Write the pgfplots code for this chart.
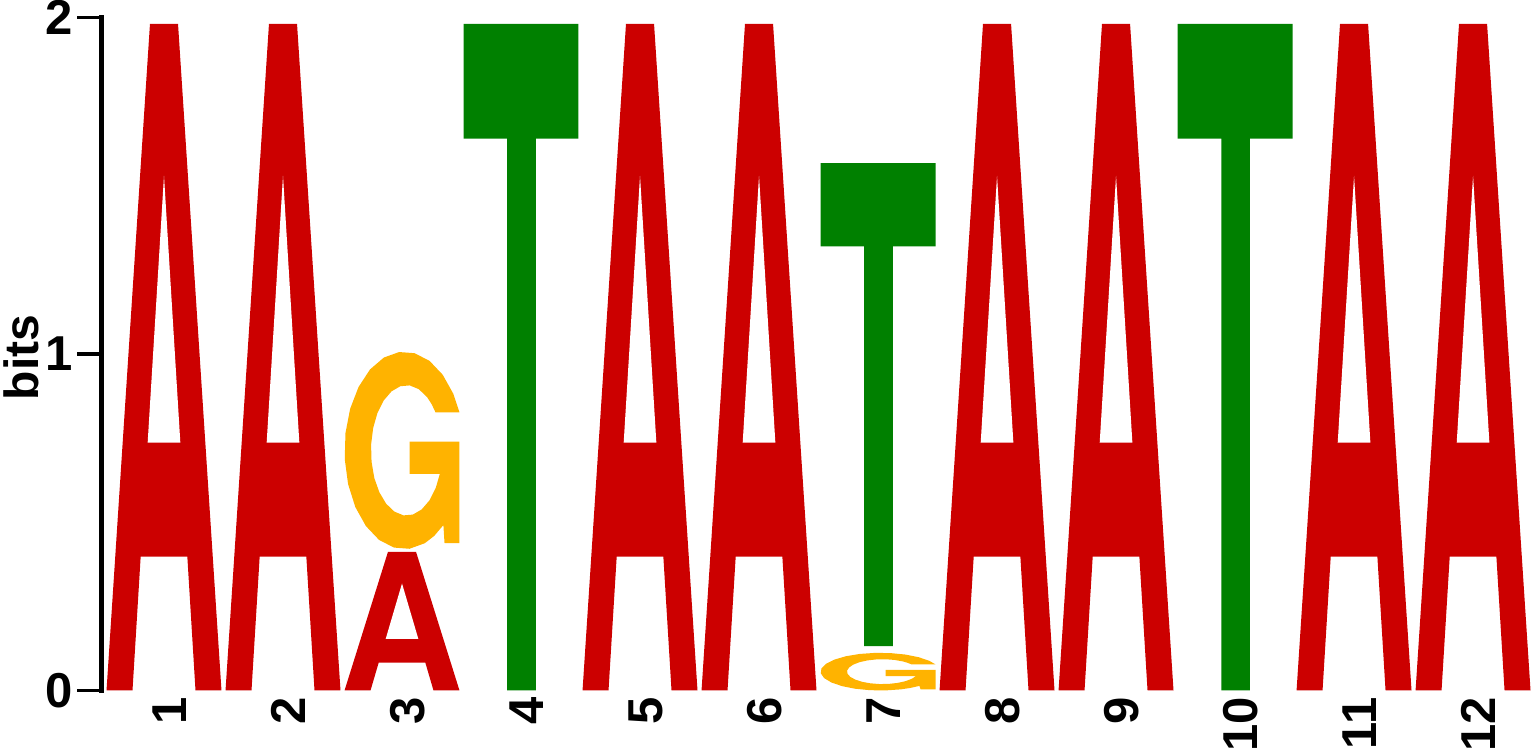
\documentclass[border=0pt]{standalone}
\usepackage{fontspec}
\setmainfont{Liberation Sans}
\usepackage{pgfplots}
\usepackage{pgfplotstable}
\pgfplotsset{compat=1.18}
\definecolor{colA}{RGB}{204,0,0}
\definecolor{colT}{RGB}{0,128,0}
\definecolor{colG}{RGB}{255,179,0}

% letter outlines in unit box (u across, v up)
\pgfplotstableread{
u v
0 0
0.378 1
0.622 1
1 0
0.774 0
0.703 0.2007
0.297 0.2007
0.226 0
}\Ashape
\pgfplotstableread{
u v
0.358 0.372
0.5 0.772
0.642 0.372
}\Ahole
\pgfplotstableread{
u v
0.38 0
0.63 0
0.63 0.828
1 0.828
1 1
0 1
0 0.828
0.38 0.828
}\Tshape
\pgfplotstableread{
u v
1.000 0.692
0.946 0.787
0.854 0.883
0.740 0.953
0.610 0.992
0.475 0.998
0.342 0.970
0.222 0.910
0.122 0.821
0.049 0.711
0.008 0.587
0.002 0.456
0.031 0.329
0.094 0.213
0.186 0.117
0.300 0.047
0.430 0.008
0.565 0.002
0.698 0.030
0.780 0.067
0.860 0.122
0.870 0.030
1.000 0.030
1.000 0.545
0.566 0.545
0.566 0.381
0.829 0.381
0.794 0.311
0.739 0.247
0.671 0.201
0.594 0.175
0.513 0.171
0.434 0.190
0.362 0.230
0.303 0.288
0.259 0.360
0.235 0.443
0.231 0.529
0.249 0.613
0.286 0.689
0.341 0.753
0.409 0.799
0.486 0.825
0.567 0.829
0.646 0.810
0.718 0.770
0.759 0.733
0.792 0.692
}\Gshape

% #1 position, #2 base (bits), #3 height (bits)
\newcommand{\LA}[3]{%
  \addplot[draw=none, fill=colA] table[x expr=\thisrow{u}*0.966+#1-0.483, y expr=\thisrow{v}*#3+#2]{\Ashape};
  \addplot[draw=none, fill=white] table[x expr=\thisrow{u}*0.966+#1-0.483, y expr=\thisrow{v}*#3+#2]{\Ahole};
}
\newcommand{\LT}[3]{%
  \addplot[draw=none, fill=colT] table[x expr=\thisrow{u}*0.966+#1-0.483, y expr=\thisrow{v}*#3+#2]{\Tshape};
}
\newcommand{\LG}[3]{%
  \addplot[draw=none, fill=colG] table[x expr=\thisrow{u}*0.966+#1-0.483, y expr=\thisrow{v}*#3+#2]{\Gshape};
}

\begin{document}
\begin{tikzpicture}
\begin{axis}[
  at={(0pt,0pt)}, anchor=south west,
  scale only axis, width=714.75pt, height=336.5pt,
  xmin=0.4748, xmax=12.487, ymin=0, ymax=2,
  clip=false,
  axis lines=left,
  axis line style={-},
  y axis line style={line width=2.2pt, line cap=rect},
  x axis line style={draw=none},
  xtick={1,...,12},
  ytick={0,1,2},
  tick align=outside,
  major tick length=12.25pt,
  ytick style={line width=1.9pt, black},
  xtick style={draw=none},
  /pgf/number format/assume math mode=true,
  ticklabel style={font=\fontsize{24.5}{28}\selectfont\bfseries, inner sep=0pt},
  yticklabel style={anchor=east, xshift=-2pt},
  xticklabel style={xshift=2.75pt, rotate=90, anchor=east},
  xticklabel shift=-9pt,
  ylabel={bits},
  every axis y label/.style={at={(axis description cs:-0.0444,0.4948)}, rotate=90, anchor=base, font=\fontsize{24}{28}\selectfont\bfseries, inner sep=0pt},
]
\LA{1}{0}{1.981}
\LA{2}{0}{1.981}
\LA{3}{0}{0.412}
\LG{3}{0.420}{0.587}
\LT{4}{0}{1.981}
\LA{5}{0}{1.981}
\LA{6}{0}{1.981}
\LG{7}{0}{0.112}
\LT{7}{0.132}{1.435}
\LA{8}{0}{1.981}
\LA{9}{0}{1.981}
\LT{10}{0}{1.981}
\LA{11}{0}{1.981}
\LA{12}{0}{1.981}
\end{axis}
\pgfresetboundingbox
\path (-50.75pt,-28.75pt) rectangle (714.75pt,345.25pt);
\end{tikzpicture}
\end{document}
